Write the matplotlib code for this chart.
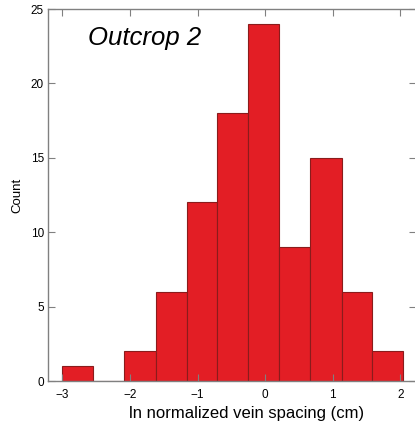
import matplotlib.pyplot as plt
import numpy as np

# histogram of ln normalized vein spacing, outcrop 2
bin_edges = [-3.0, -2.54, -2.08, -1.62, -1.16, -0.71, -0.25, 0.21, 0.67, 1.13, 1.58, 2.04]
counts = [1, 0, 2, 6, 12, 18, 24, 9, 15, 6, 2]
x_ticks = [-3, -2, -1, 0, 1, 2]
y_ticks = [0, 5, 10, 15, 20, 25]

plt.rcParams['font.family'] = ['Liberation Sans', 'DejaVu Sans']

fig = plt.figure(figsize=(4.15, 4.30), dpi=100)
ax = fig.add_axes([48 / 415, 49 / 430, 368 / 415, 372 / 430])

edges = np.array(bin_edges)
ax.bar(edges[:-1], counts, width=np.diff(edges), align='edge',
       color='#e31e25', edgecolor='#8a1c1c', linewidth=0.8)

ax.set_xlim(-3.21, 2.23)
ax.set_ylim(0, 25)
ax.set_xticks(x_ticks)
ax.set_yticks(y_ticks)
ax.set_xticklabels([f'\u2212{abs(t)}' if t < 0 else str(t) for t in x_ticks])

for s in ax.spines.values():
    s.set_color('#808080')
    s.set_linewidth(1.0)

ax.tick_params(direction='in', top=True, right=True, length=5, width=0.8,
               color='#808080', labelsize=8.5)
ax.tick_params(axis='x', pad=6)
ax.tick_params(axis='y', pad=3)

ax.set_xlabel('ln normalized vein spacing (cm)', fontsize=12)
ax.xaxis.set_label_coords(0.539, -0.067)
ax.set_ylabel('Count', fontsize=9.5)
ax.yaxis.set_label_coords(-0.066, 0.5)

ax.text(0.109, 0.903, 'Outcrop 2', transform=ax.transAxes, fontsize=18.5,
        style='italic', va='baseline', ha='left')

fig.savefig('out.png', dpi=100)
plt.close(fig)
